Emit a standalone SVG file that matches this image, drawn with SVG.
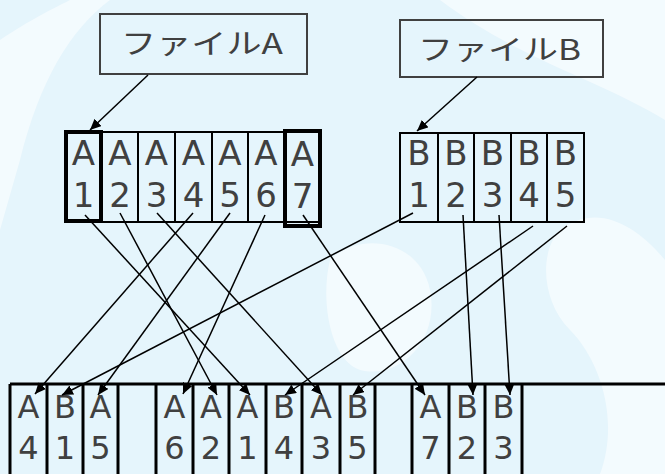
<svg xmlns="http://www.w3.org/2000/svg" width="665" height="474" viewBox="0 0 665 474">
<defs>
<marker id="ah" markerUnits="userSpaceOnUse" markerWidth="12" markerHeight="10" refX="11" refY="5" orient="auto">
<path d="M0,0 L11,5 L0,10 z" fill="#000"/>
</marker>
<style>
.bg{fill:#e5f5fc}
.wh{fill:#ffffff;opacity:0.55}
.lbl{fill:none;stroke:#404040;stroke-width:2}
.lt{font-family:"Noto Sans CJK JP","Noto Sans",sans-serif;font-size:28px;fill:#404040}
.cell{fill:none;stroke:#000;stroke-width:2}
.thick{fill:none;stroke:#000;stroke-width:4}
.row{fill:none;stroke:#000;stroke-width:3}
.t{font-family:"DejaVu Sans",sans-serif;font-size:34px;fill:#404040;text-anchor:middle}
.b{font-family:"DejaVu Sans",sans-serif;font-size:32px;fill:#404040;text-anchor:middle}
.c{stroke:#000;stroke-width:1.5;fill:none;marker-end:url(#ah)}
</style>
</defs>
<rect class="bg" x="0" y="0" width="665" height="474"/>
<path class="wh" d="M0,40 C30,20 50,10 70,0 L110,0 C70,30 40,80 20,160 L0,230 Z"/>
<path class="wh" d="M330,260 C360,230 420,240 430,290 C440,340 400,380 360,370 C330,360 320,300 330,260 Z"/>
<path class="wh" d="M560,230 C600,200 640,230 665,260 L665,474 L600,474 C620,420 600,360 570,330 C540,300 540,250 560,230 Z"/>
<path class="wh" d="M440,0 L665,0 L665,120 C600,80 520,60 440,0 Z"/>

<g id="fileA">
<rect class="lbl" x="100" y="14" width="207" height="60"/>
<text class="lt" x="121" y="54" textLength="162" lengthAdjust="spacingAndGlyphs">ファイルA</text>
</g>
<g id="fileB">
<rect class="lbl" x="400" y="20" width="203" height="57"/>
<text class="lt" x="418" y="60" textLength="163" lengthAdjust="spacingAndGlyphs">ファイルB</text>
</g>

<g id="arrayA">
<rect class="cell" x="65" y="132" width="255" height="90"/>
<line class="cell" x1="102" y1="132" x2="102" y2="222"/>
<line class="cell" x1="138" y1="132" x2="138" y2="222"/>
<line class="cell" x1="175" y1="132" x2="175" y2="222"/>
<line class="cell" x1="212" y1="132" x2="212" y2="222"/>
<line class="cell" x1="248" y1="132" x2="248" y2="222"/>
<line class="cell" x1="284" y1="132" x2="284" y2="222"/>
<rect class="thick" x="66" y="132" width="35" height="89"/>
<rect class="thick" x="285" y="131" width="35" height="95"/>
<text class="t" x="83.5" y="165">A</text><text class="t" x="83.5" y="207">1</text>
<text class="t" x="120" y="165">A</text><text class="t" x="120" y="207">2</text>
<text class="t" x="156.5" y="165">A</text><text class="t" x="156.5" y="207">3</text>
<text class="t" x="193.5" y="165">A</text><text class="t" x="193.5" y="207">4</text>
<text class="t" x="230" y="165">A</text><text class="t" x="230" y="207">5</text>
<text class="t" x="266" y="165">A</text><text class="t" x="266" y="207">6</text>
<text class="t" x="302.5" y="166">A</text><text class="t" x="302.5" y="208">7</text>
</g>

<g id="arrayB">
<rect class="cell" x="400" y="133" width="184" height="89"/>
<line class="cell" x1="438" y1="133" x2="438" y2="222"/>
<line class="cell" x1="474" y1="133" x2="474" y2="222"/>
<line class="cell" x1="511" y1="133" x2="511" y2="222"/>
<line class="cell" x1="547" y1="133" x2="547" y2="222"/>
<text class="t" x="419" y="165">B</text><text class="t" x="419" y="207">1</text>
<text class="t" x="456" y="165">B</text><text class="t" x="456" y="207">2</text>
<text class="t" x="492.5" y="165">B</text><text class="t" x="492.5" y="207">3</text>
<text class="t" x="529" y="165">B</text><text class="t" x="529" y="207">4</text>
<text class="t" x="565.5" y="165">B</text><text class="t" x="565.5" y="207">5</text>
</g>

<g id="merged">
<line class="row" x1="10" y1="384" x2="665" y2="384"/>
<line class="row" x1="10" y1="384" x2="10" y2="474"/>
<line class="row" x1="47" y1="384" x2="47" y2="474"/>
<line class="row" x1="83" y1="384" x2="83" y2="474"/>
<line class="row" x1="118" y1="384" x2="118" y2="474"/>
<line class="row" x1="156" y1="384" x2="156" y2="474"/>
<line class="row" x1="193" y1="384" x2="193" y2="474"/>
<line class="row" x1="229" y1="384" x2="229" y2="474"/>
<line class="row" x1="266" y1="384" x2="266" y2="474"/>
<line class="row" x1="302" y1="384" x2="302" y2="474"/>
<line class="row" x1="340" y1="384" x2="340" y2="474"/>
<line class="row" x1="375" y1="384" x2="375" y2="474"/>
<line class="row" x1="412" y1="384" x2="412" y2="474"/>
<line class="row" x1="449" y1="384" x2="449" y2="474"/>
<line class="row" x1="485" y1="384" x2="485" y2="474"/>
<line class="row" x1="522" y1="384" x2="522" y2="474"/>
<text class="b" x="28.5" y="418">A</text><text class="b" x="28.5" y="459">4</text>
<text class="b" x="65" y="418">B</text><text class="b" x="65" y="459">1</text>
<text class="b" x="100.5" y="418">A</text><text class="b" x="100.5" y="459">5</text>
<text class="b" x="174.5" y="418">A</text><text class="b" x="174.5" y="459">6</text>
<text class="b" x="211" y="418">A</text><text class="b" x="211" y="459">2</text>
<text class="b" x="247.5" y="418">A</text><text class="b" x="247.5" y="459">1</text>
<text class="b" x="284" y="418">B</text><text class="b" x="284" y="459">4</text>
<text class="b" x="321" y="418">A</text><text class="b" x="321" y="459">3</text>
<text class="b" x="357.5" y="418">B</text><text class="b" x="357.5" y="459">5</text>
<text class="b" x="430.5" y="418">A</text><text class="b" x="430.5" y="459">7</text>
<text class="b" x="467" y="418">B</text><text class="b" x="467" y="459">2</text>
<text class="b" x="503.5" y="418">B</text><text class="b" x="503.5" y="459">3</text>
</g>

<g id="connectors">
<line class="c" x1="148" y1="75" x2="90" y2="130"/>
<line class="c" x1="477" y1="77" x2="417" y2="131"/>
<line class="c" x1="85" y1="215" x2="250" y2="395"/>
<line class="c" x1="120" y1="213" x2="217" y2="395"/>
<line class="c" x1="157" y1="213" x2="322" y2="395"/>
<line class="c" x1="193" y1="213" x2="35" y2="394"/>
<line class="c" x1="230" y1="213" x2="98" y2="395"/>
<line class="c" x1="265" y1="215" x2="183" y2="394"/>
<line class="c" x1="303" y1="215" x2="425" y2="395"/>
<line class="c" x1="413" y1="213" x2="62" y2="395"/>
<line class="c" x1="463" y1="215" x2="473" y2="395"/>
<line class="c" x1="499" y1="215" x2="510" y2="395"/>
<line class="c" x1="533" y1="226" x2="285" y2="395"/>
<line class="c" x1="567" y1="226" x2="353" y2="395"/>
</g>
</svg>
